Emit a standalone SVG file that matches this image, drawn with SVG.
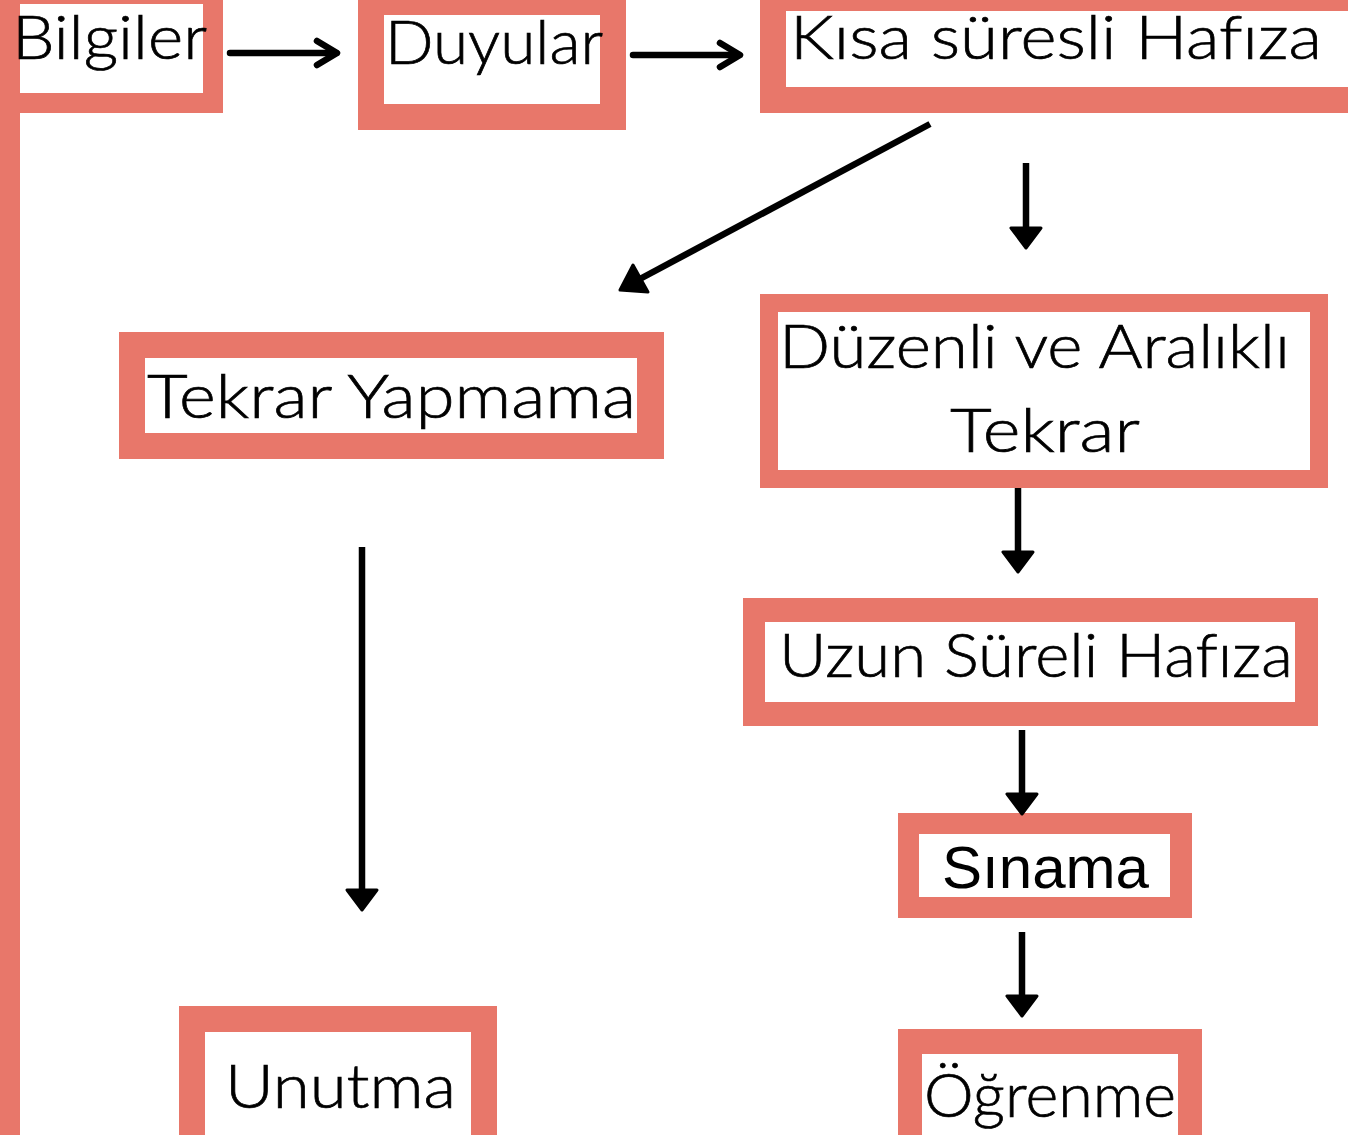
<svg xmlns="http://www.w3.org/2000/svg" width="1348" height="1135" viewBox="0 0 1348 1135">
<style>
.o{fill:#E8776A}
.i{fill:#FFFFFF}
.t{font-family:Lato,"Noto Sans","Liberation Sans",sans-serif;font-size:62px;font-weight:300;fill:#000;stroke:#000;stroke-width:0.7;font-variant-ligatures:none;font-feature-settings:"liga" 0}
.s{font-family:"Liberation Sans",Arial,sans-serif;font-size:60px;fill:#000}
.ln{stroke:#000;stroke-width:6.5;fill:none;stroke-linecap:butt}
.ch{stroke:#000;stroke-width:6.5;fill:none;stroke-linecap:round;stroke-linejoin:round}
.hd{fill:#000;stroke:#000;stroke-width:3;stroke-linejoin:round}
</style>
<rect width="1348" height="1135" fill="#FFFFFF"/>
<g id="bilgiler">
<rect class="o" x="0" y="0" width="223" height="113"/>
<rect class="i" x="20" y="4" width="183" height="89"/>
<rect class="o" x="0" y="0" width="20" height="1135"/>
<text class="t" x="12" y="59" font-size="58" textLength="195" lengthAdjust="spacingAndGlyphs">Bilgiler</text>
</g>
<g id="duyular">
<rect class="o" x="358" y="0" width="268" height="130"/>
<rect class="i" x="384" y="15" width="216" height="89"/>
<text class="t" x="385" y="64" textLength="218" lengthAdjust="spacingAndGlyphs">Duyular</text>
</g>
<g id="kisa">
<rect class="o" x="760" y="0" width="588" height="113"/>
<rect class="i" x="786" y="11" width="562" height="76"/>
<text class="t" x="790" y="59" textLength="532" lengthAdjust="spacingAndGlyphs">Kısa süresli Hafıza</text>
</g>
<g id="tekrar-yapmama">
<rect class="o" x="119" y="332" width="545" height="127"/>
<rect class="i" x="145" y="358" width="492" height="75"/>
<text class="t" x="147" y="418" textLength="489" lengthAdjust="spacingAndGlyphs">Tekrar Yapmama</text>
</g>
<g id="duzenli">
<rect class="o" x="760" y="294" width="568" height="194"/>
<rect class="i" x="778" y="312" width="532" height="158"/>
<text class="t" x="779" y="368" textLength="511" lengthAdjust="spacingAndGlyphs">Düzenli ve Aralıklı</text>
<text class="t" x="950" y="452" textLength="190" lengthAdjust="spacingAndGlyphs">Tekrar</text>
</g>
<g id="uzun">
<rect class="o" x="743" y="598" width="575" height="128"/>
<rect class="i" x="765" y="622" width="530" height="80"/>
<text class="t" x="779" y="677" textLength="514" lengthAdjust="spacingAndGlyphs">Uzun Süreli Hafıza</text>
</g>
<g id="sinama">
<rect class="o" x="898" y="813" width="294" height="105"/>
<rect class="i" x="919" y="834" width="251" height="63"/>
<text class="s" x="942" y="888" textLength="207" lengthAdjust="spacingAndGlyphs">Sınama</text>
</g>
<g id="ogrenme">
<rect class="o" x="898" y="1029" width="304" height="110"/>
<rect class="i" x="922" y="1054" width="256" height="85"/>
<text class="t" x="924" y="1117" textLength="252" lengthAdjust="spacingAndGlyphs">Öğrenme</text>
</g>
<g id="unutma">
<rect class="o" x="179" y="1006" width="318" height="133"/>
<rect class="i" x="205" y="1032" width="266" height="107"/>
<text class="t" x="225" y="1108" textLength="231" lengthAdjust="spacingAndGlyphs">Unutma</text>
</g>
<g id="connectors">
<line class="ch" x1="230" y1="53" x2="336" y2="53"/>
<polyline class="ch" points="317,41 337,53 317,65"/>
<line class="ch" x1="633" y1="55" x2="738" y2="55"/>
<polyline class="ch" points="720,43 740,55 720,67"/>
<line class="ln" x1="930" y1="124" x2="638" y2="280"/>
<polygon class="hd" points="620,290 633,265 648,292"/>
<line class="ln" x1="1026" y1="163" x2="1026" y2="230"/>
<polygon class="hd" points="1011,228 1041,228 1026,248"/>
<line class="ln" x1="1018" y1="488" x2="1018" y2="554"/>
<polygon class="hd" points="1003,552 1033,552 1018,572"/>
<line class="ln" x1="1022" y1="730" x2="1022" y2="796"/>
<polygon class="hd" points="1007,794 1037,794 1022,814"/>
<line class="ln" x1="1022" y1="932" x2="1022" y2="998"/>
<polygon class="hd" points="1007,996 1037,996 1022,1016"/>
<line class="ln" x1="362" y1="547" x2="362" y2="892"/>
<polygon class="hd" points="347,890 377,890 362,910"/>
</g>
</svg>
